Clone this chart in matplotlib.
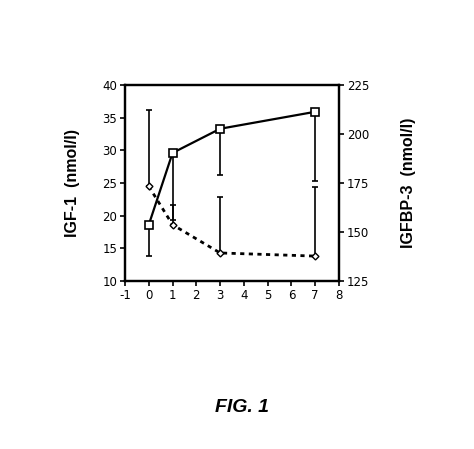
import matplotlib.pyplot as plt

# days after start
days = [0, 1, 3, 7]

# IGF-1 (left axis, nmol/l), squares, solid line; error bars point down
igf1 = [18.6, 29.6, 33.3, 35.9]
igf1_low = [13.8, 19.3, 26.2, 25.3]

# IGFBP-3 (right axis, nmol/l), diamonds, dashed line; error bars point up
igfbp3 = [173.3, 153.7, 139.3, 137.7]
igfbp3_high = [212.0, 163.7, 167.7, 173.0]

x_ticks = [-1, 0, 1, 2, 3, 4, 5, 6, 7, 8]
left_ticks = [10, 15, 20, 25, 30, 35, 40]
right_ticks = [125, 150, 175, 200, 225]

fig = plt.figure(figsize=(4.74, 4.49), dpi=100)
ax = fig.add_axes([0.2637, 0.3742, 0.4515, 0.4365])
ax2 = ax.twinx()

tick_font = {"family": "DejaVu Sans", "size": 8.5}
label_font = {"family": "Liberation Sans", "size": 11.5, "weight": "bold"}

# IGF-1
low_err = [v - lo for v, lo in zip(igf1, igf1_low)]
ax.errorbar(days, igf1, yerr=[low_err, [0] * 4], fmt="none", ecolor="black",
            elinewidth=1.2, capsize=2.5, capthick=1.2, zorder=2)
ax.plot(days, igf1, color="black", lw=1.6, marker="s", ms=6,
        mfc="white", mec="black", mew=1.2, zorder=3)

# IGFBP-3
high_err = [hi - v for v, hi in zip(igfbp3, igfbp3_high)]
ax2.errorbar(days, igfbp3, yerr=[[0] * 4, high_err], fmt="none", ecolor="black",
             elinewidth=1.2, capsize=2.5, capthick=1.2, zorder=2)
ax2.plot(days, igfbp3, color="black", lw=2, ls=(0, (1.5, 1.6)), marker="D", ms=3.5,
         mfc="white", mec="black", mew=1.0, zorder=3)

ax.set_xlim(-1, 8)
ax.set_ylim(10, 40)
ax2.set_ylim(125, 225)
ax.set_xticks(x_ticks)
ax.set_yticks(left_ticks)
ax2.set_yticks(right_ticks)
ax.set_xticklabels([str(t) for t in x_ticks], fontdict=tick_font)
ax.set_yticklabels([str(t) for t in left_ticks], fontdict=tick_font)
ax2.set_yticklabels([str(t) for t in right_ticks], fontdict=tick_font)

for a in (ax, ax2):
    for s in a.spines.values():
        s.set_linewidth(1.6)
    a.tick_params(direction="out", length=3.5, width=1.2, pad=2, colors="black")

ax.set_ylabel("IGF-1  (nmol/l)", fontdict=label_font)
ax2.set_ylabel("IGFBP-3  (nmol/l)", fontdict=label_font, rotation=90)
ax.yaxis.set_label_coords(-0.21, 0.5)
ax2.yaxis.set_label_coords(1.29, 0.5)

fig.text(0.511, 0.093, "FIG. 1", ha="center", va="center",
         fontsize=14, fontweight="bold", style="italic", family="Liberation Sans")

fig.savefig("out.png", dpi=100)
